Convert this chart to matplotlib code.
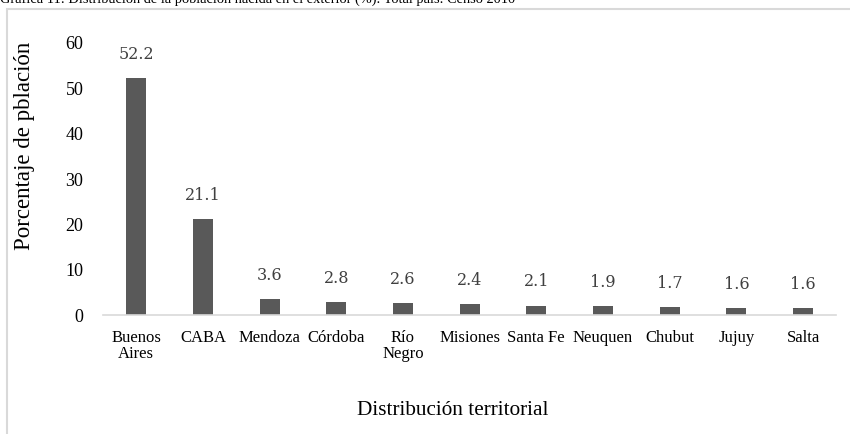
import matplotlib.pyplot as plt
from matplotlib.patches import Rectangle

provincias = ['Buenos\nAires', 'CABA', 'Mendoza', 'Córdoba', 'Río\nNegro', 'Misiones',
              'Santa Fe', 'Neuquen', 'Chubut', 'Jujuy', 'Salta']
porcentajes = [52.2, 21.1, 3.6, 2.8, 2.6, 2.4, 2.1, 1.9, 1.7, 1.6, 1.6]
yticks = [0, 10, 20, 30, 40, 50, 60]

serif = 'Liberation Serif'

fig = plt.figure(figsize=(8.5, 4.34), dpi=100)
ax = fig.add_axes([0.121, 0.274, 0.863, 0.627])

x = range(len(provincias))
ax.bar(x, porcentajes, width=0.3, color='#595959')
for xi, v in zip(x, porcentajes):
    ax.annotate(f'{v:.1f}', (xi, v), xytext=(0, 17), textcoords='offset points',
                ha='center', va='center', fontsize=11.5, color='#404040', family='DejaVu Serif')

ax.set_xlim(-0.5, len(provincias) - 0.5)
ax.set_ylim(0, 60)
ax.set_yticks(yticks)
ax.set_xticks(list(x))
ax.set_xticklabels(provincias, fontsize=12, family=serif, linespacing=1.0)
ax.set_yticklabels([str(t) for t in yticks], fontsize=13, family=serif)
ax.tick_params(axis='both', length=0)
ax.tick_params(axis='x', pad=11)
ax.tick_params(axis='y', pad=14)
for s in ['top', 'right', 'left']:
    ax.spines[s].set_visible(False)
ax.spines['bottom'].set_color('#d9d9d9')
ax.spines['bottom'].set_linewidth(1.2)

fig.text(0.029, 0.664, 'Porcentaje de pblación', rotation=90, ha='center', va='center',
         fontsize=16.5, family=serif)
fig.text(0.533, 0.053, 'Distribución territorial', ha='center', va='center',
         fontsize=15.3, family=serif)
fig.text(0.0, 1.003, 'Gráfica 11: Distribución de la población nacida en el exterior (%). Total país. Censo 2010',
         ha='left', va='center', fontsize=10.4, family=serif)

fig.patches.append(Rectangle((7 / 850, -0.1), 1.2, 1.1 - 9 / 434, transform=fig.transFigure,
                             fill=False, edgecolor='#d9d9d9', linewidth=1.5))

fig.savefig('out.png', dpi=100)
